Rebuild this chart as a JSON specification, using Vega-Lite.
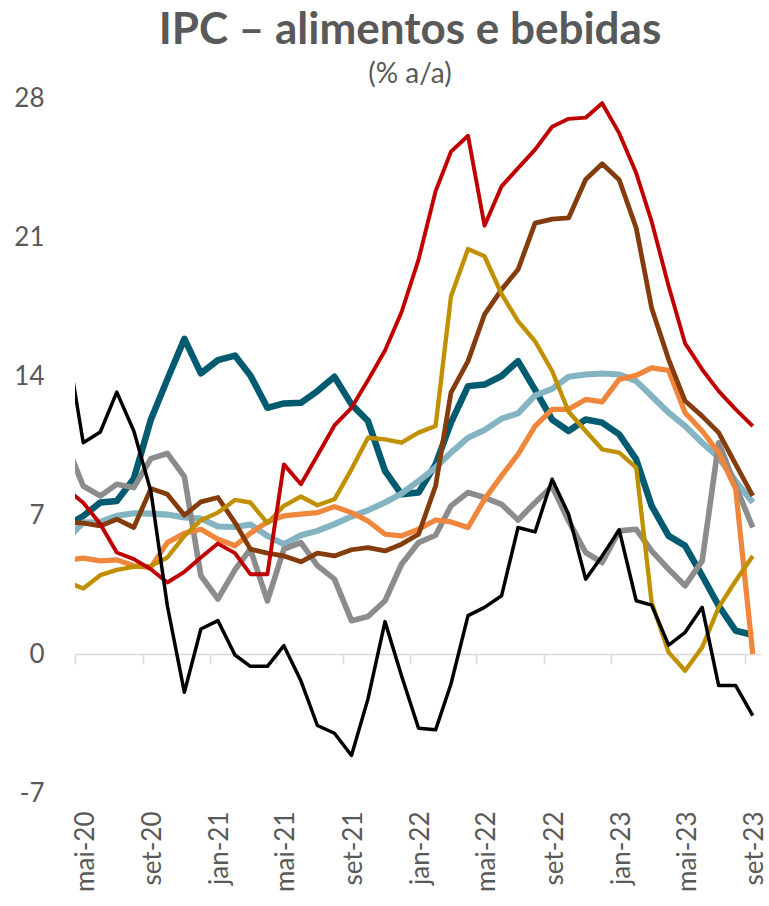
{
  "$schema": "https://vega.github.io/schema/vega-lite/v6.json",
  "autosize": "none",
  "width": 686,
  "height": 695,
  "padding": {"left": 75, "top": 98, "right": 8, "bottom": 113},
  "background": "white",
  "config": {"view": {"stroke": null}, "font": "Lato"},
  "title": {
    "text": "IPC – alimentos e bebidas",
    "subtitle": "(% a/a)",
    "anchor": "middle",
    "dx": -8,
    "dy": 12,
    "offset": 8,
    "font": "Lato",
    "fontSize": 44,
    "fontWeight": "bold",
    "color": "#595959",
    "subtitleFont": "Lato",
    "subtitleFontSize": 28,
    "subtitleColor": "#595959",
    "subtitlePadding": 8
  },
  "data": {
    "values": [
      {"mes": "2020-04-16", "azul": 6.45, "vermelho": 8.3, "marrom": 6.65, "dourado": 3.64, "laranja": 4.73, "azul_claro": 5.78, "cinza": 10.5, "preto": 15.7},
      {"mes": "2020-05-16", "azul": 6.95, "vermelho": 7.62, "marrom": 6.59, "dourado": 3.3, "laranja": 4.83, "azul_claro": 6.62, "cinza": 8.46, "preto": 10.64},
      {"mes": "2020-06-16", "azul": 7.63, "vermelho": 6.55, "marrom": 6.45, "dourado": 3.97, "laranja": 4.69, "azul_claro": 6.65, "cinza": 7.96, "preto": 11.18},
      {"mes": "2020-07-16", "azul": 7.71, "vermelho": 5.11, "marrom": 6.79, "dourado": 4.24, "laranja": 4.74, "azul_claro": 6.96, "cinza": 8.55, "preto": 13.19},
      {"mes": "2020-08-16", "azul": 8.83, "vermelho": 4.78, "marrom": 6.37, "dourado": 4.39, "laranja": 4.44, "azul_claro": 7.09, "cinza": 8.38, "preto": 11.23},
      {"mes": "2020-09-16", "azul": 11.8, "vermelho": 4.27, "marrom": 8.33, "dourado": 4.44, "laranja": 4.36, "azul_claro": 7.07, "cinza": 9.84, "preto": 8.2},
      {"mes": "2020-10-16", "azul": 13.83, "vermelho": 3.6, "marrom": 8.04, "dourado": 4.86, "laranja": 5.61, "azul_claro": 7.02, "cinza": 10.1, "preto": 2.43},
      {"mes": "2020-11-16", "azul": 15.87, "vermelho": 4.14, "marrom": 6.99, "dourado": 5.95, "laranja": 6.08, "azul_claro": 6.87, "cinza": 8.93, "preto": -1.93},
      {"mes": "2020-12-16", "azul": 14.13, "vermelho": 4.86, "marrom": 7.66, "dourado": 6.74, "laranja": 6.28, "azul_claro": 6.82, "cinza": 3.94, "preto": 1.26},
      {"mes": "2021-01-16", "azul": 14.8, "vermelho": 5.56, "marrom": 7.88, "dourado": 7.12, "laranja": 5.78, "azul_claro": 6.42, "cinza": 2.77, "preto": 1.68},
      {"mes": "2021-02-16", "azul": 15.03, "vermelho": 5.08, "marrom": 6.62, "dourado": 7.76, "laranja": 5.45, "azul_claro": 6.4, "cinza": 4.24, "preto": -0.05},
      {"mes": "2021-03-16", "azul": 14.03, "vermelho": 4.02, "marrom": 5.28, "dourado": 7.63, "laranja": 6.08, "azul_claro": 6.52, "cinza": 5.28, "preto": -0.62},
      {"mes": "2021-04-16", "azul": 12.4, "vermelho": 4.02, "marrom": 5.08, "dourado": 6.59, "laranja": 6.65, "azul_claro": 5.95, "cinza": 2.68, "preto": -0.62},
      {"mes": "2021-05-16", "azul": 12.62, "vermelho": 9.55, "marrom": 4.94, "dourado": 7.46, "laranja": 6.96, "azul_claro": 5.53, "cinza": 5.28, "preto": 0.42},
      {"mes": "2021-06-16", "azul": 12.65, "vermelho": 8.55, "marrom": 4.64, "dourado": 7.93, "laranja": 7.04, "azul_claro": 5.98, "cinza": 5.61, "preto": -1.35},
      {"mes": "2021-07-16", "azul": 13.24, "vermelho": 10.0, "marrom": 5.08, "dourado": 7.49, "laranja": 7.12, "azul_claro": 6.2, "cinza": 4.45, "preto": -3.6},
      {"mes": "2021-08-16", "azul": 13.96, "vermelho": 11.51, "marrom": 4.94, "dourado": 7.79, "laranja": 7.42, "azul_claro": 6.54, "cinza": 3.77, "preto": -3.99},
      {"mes": "2021-09-16", "azul": 12.57, "vermelho": 12.4, "marrom": 5.25, "dourado": 9.3, "laranja": 7.12, "azul_claro": 6.92, "cinza": 1.68, "preto": -5.11},
      {"mes": "2021-10-16", "azul": 11.73, "vermelho": 13.79, "marrom": 5.36, "dourado": 10.89, "laranja": 6.7, "azul_claro": 7.24, "cinza": 1.89, "preto": -2.26},
      {"mes": "2021-11-16", "azul": 9.22, "vermelho": 15.28, "marrom": 5.19, "dourado": 10.81, "laranja": 6.03, "azul_claro": 7.63, "cinza": 2.68, "preto": 1.63},
      {"mes": "2021-12-16", "azul": 8.04, "vermelho": 17.21, "marrom": 5.53, "dourado": 10.64, "laranja": 5.95, "azul_claro": 8.08, "cinza": 4.52, "preto": -1.09},
      {"mes": "2022-01-16", "azul": 8.13, "vermelho": 19.86, "marrom": 6.03, "dourado": 11.15, "laranja": 6.28, "azul_claro": 8.71, "cinza": 5.61, "preto": -3.74},
      {"mes": "2022-02-16", "azul": 9.55, "vermelho": 23.3, "marrom": 8.46, "dourado": 11.48, "laranja": 6.75, "azul_claro": 9.39, "cinza": 5.98, "preto": -3.82},
      {"mes": "2022-03-16", "azul": 11.65, "vermelho": 25.3, "marrom": 13.16, "dourado": 18.0, "laranja": 6.65, "azul_claro": 10.14, "cinza": 7.46, "preto": -1.51},
      {"mes": "2022-04-16", "azul": 13.49, "vermelho": 26.1, "marrom": 14.75, "dourado": 20.4, "laranja": 6.37, "azul_claro": 10.89, "cinza": 8.13, "preto": 1.93},
      {"mes": "2022-05-16", "azul": 13.57, "vermelho": 21.57, "marrom": 17.1, "dourado": 20.03, "laranja": 7.79, "azul_claro": 11.28, "cinza": 7.88, "preto": 2.35},
      {"mes": "2022-06-16", "azul": 14.0, "vermelho": 23.55, "marrom": 18.35, "dourado": 18.13, "laranja": 8.97, "azul_claro": 11.85, "cinza": 7.54, "preto": 2.93},
      {"mes": "2022-07-16", "azul": 14.75, "vermelho": 24.47, "marrom": 19.36, "dourado": 16.76, "laranja": 10.06, "azul_claro": 12.12, "cinza": 6.75, "preto": 6.37},
      {"mes": "2022-08-16", "azul": 13.3, "vermelho": 25.4, "marrom": 21.7, "dourado": 15.75, "laranja": 11.48, "azul_claro": 13.02, "cinza": 7.63, "preto": 6.15},
      {"mes": "2022-09-16", "azul": 11.8, "vermelho": 26.55, "marrom": 21.9, "dourado": 14.25, "laranja": 12.32, "azul_claro": 13.35, "cinza": 8.45, "preto": 8.8},
      {"mes": "2022-10-16", "azul": 11.23, "vermelho": 26.95, "marrom": 21.96, "dourado": 12.2, "laranja": 12.32, "azul_claro": 13.96, "cinza": 6.7, "preto": 7.04},
      {"mes": "2022-11-16", "azul": 11.81, "vermelho": 27.01, "marrom": 23.9, "dourado": 11.23, "laranja": 12.82, "azul_claro": 14.08, "cinza": 5.11, "preto": 3.77},
      {"mes": "2022-12-16", "azul": 11.65, "vermelho": 27.74, "marrom": 24.69, "dourado": 10.31, "laranja": 12.7, "azul_claro": 14.13, "cinza": 4.61, "preto": 4.94},
      {"mes": "2023-01-16", "azul": 11.06, "vermelho": 26.23, "marrom": 23.88, "dourado": 10.14, "laranja": 13.83, "azul_claro": 14.08, "cinza": 6.2, "preto": 6.25},
      {"mes": "2023-02-16", "azul": 9.8, "vermelho": 24.22, "marrom": 21.45, "dourado": 9.39, "laranja": 14.03, "azul_claro": 13.74, "cinza": 6.28, "preto": 2.68},
      {"mes": "2023-03-16", "azul": 7.46, "vermelho": 21.79, "marrom": 17.43, "dourado": 2.6, "laranja": 14.41, "azul_claro": 12.99, "cinza": 5.19, "preto": 2.46},
      {"mes": "2023-04-16", "azul": 5.95, "vermelho": 18.52, "marrom": 14.83, "dourado": 0.08, "laranja": 14.28, "azul_claro": 12.15, "cinza": 4.27, "preto": 0.45},
      {"mes": "2023-05-16", "azul": 5.45, "vermelho": 15.64, "marrom": 12.74, "dourado": -0.84, "laranja": 12.15, "azul_claro": 11.48, "cinza": 3.44, "preto": 1.09},
      {"mes": "2023-06-16", "azul": 3.94, "vermelho": 14.33, "marrom": 11.98, "dourado": 0.34, "laranja": 11.23, "azul_claro": 10.64, "cinza": 4.69, "preto": 2.35},
      {"mes": "2023-07-16", "azul": 2.43, "vermelho": 13.24, "marrom": 11.15, "dourado": 2.35, "laranja": 10.14, "azul_claro": 9.89, "cinza": 10.64, "preto": -1.59},
      {"mes": "2023-08-16", "azul": 1.17, "vermelho": 12.32, "marrom": 9.55, "dourado": 3.69, "laranja": 8.3, "azul_claro": 8.71, "cinza": 8.46, "preto": -1.59},
      {"mes": "2023-09-16", "azul": 0.96, "vermelho": 11.48, "marrom": 7.96, "dourado": 4.94, "laranja": 0.0, "azul_claro": 7.63, "cinza": 6.37, "preto": -3.1}
    ]
  },
  "layer": [
    {
      "data": {"values": [{"ref": 0}]},
      "mark": {"type": "rule", "strokeOpacity": 0},
      "encoding": {
        "x": {
          "datum": {"year": 2020, "month": 5, "date": 1, "utc": true},
          "type": "temporal",
          "scale": {"type": "utc", "domain": [{"year": 2020, "month": 5, "date": 1, "utc": true}, {"year": 2023, "month": 10, "date": 1, "utc": true}]},
          "axis": {
            "orient": "bottom",
            "offset": -139,
            "values": [
              {"year": 2020, "month": 5, "date": 1, "utc": true},
              {"year": 2020, "month": 9, "date": 1, "utc": true},
              {"year": 2021, "month": 1, "date": 1, "utc": true},
              {"year": 2021, "month": 5, "date": 1, "utc": true},
              {"year": 2021, "month": 9, "date": 1, "utc": true},
              {"year": 2022, "month": 1, "date": 1, "utc": true},
              {"year": 2022, "month": 5, "date": 1, "utc": true},
              {"year": 2022, "month": 9, "date": 1, "utc": true},
              {"year": 2023, "month": 1, "date": 1, "utc": true},
              {"year": 2023, "month": 5, "date": 1, "utc": true},
              {"year": 2023, "month": 9, "date": 1, "utc": true}
            ],
            "labels": false,
            "grid": false,
            "title": null,
            "domain": true,
            "domainColor": "#D9D9D9",
            "domainWidth": 1.5,
            "ticks": true,
            "tickColor": "#D9D9D9",
            "tickWidth": 1.5,
            "tickSize": 10
          }
        },
        "x2": {"datum": {"year": 2023, "month": 10, "date": 1, "utc": true}},
        "y": {"datum": 0, "type": "quantitative", "scale": {"domain": [-7, 28]}, "axis": null}
      }
    },
    {
      "transform": [
        {"fold": ["azul", "azul_claro", "cinza", "laranja", "marrom", "dourado", "vermelho", "preto"], "as": ["serie", "valor"]}
      ],
      "mark": {"type": "line", "clip": true, "strokeJoin": "round"},
      "encoding": {
        "x": {
          "field": "mes",
          "type": "temporal",
          "scale": {"type": "utc", "domain": [{"year": 2020, "month": 5, "date": 1, "utc": true}, {"year": 2023, "month": 10, "date": 1, "utc": true}]},
          "axis": {
            "orient": "bottom",
            "values": [
              {"year": 2020, "month": 5, "date": 16, "utc": true},
              {"year": 2020, "month": 9, "date": 16, "utc": true},
              {"year": 2021, "month": 1, "date": 16, "utc": true},
              {"year": 2021, "month": 5, "date": 16, "utc": true},
              {"year": 2021, "month": 9, "date": 16, "utc": true},
              {"year": 2022, "month": 1, "date": 16, "utc": true},
              {"year": 2022, "month": 5, "date": 16, "utc": true},
              {"year": 2022, "month": 9, "date": 16, "utc": true},
              {"year": 2023, "month": 1, "date": 16, "utc": true},
              {"year": 2023, "month": 5, "date": 16, "utc": true},
              {"year": 2023, "month": 9, "date": 16, "utc": true}
            ],
            "labelExpr": "['jan','fev','mar','abr','mai','jun','jul','ago','set','out','nov','dez'][utcmonth(datum.value)] + '-' + utcFormat(datum.value, '%y')",
            "labelAngle": 270,
            "labelAlign": "right",
            "labelBaseline": "middle",
            "labelPadding": 18,
            "labelOffset": 2,
            "labelFont": "Lato",
            "labelFontSize": 26,
            "labelColor": "#595959",
            "labelFlush": false,
            "labelOverlap": false,
            "labelBound": false,
            "domain": false,
            "ticks": false,
            "tickSize": 0,
            "grid": false,
            "title": null
          }
        },
        "y": {
          "field": "valor",
          "type": "quantitative",
          "scale": {"domain": [-7, 28]},
          "axis": {
            "values": [-7, 0, 7, 14, 21, 28],
            "labelExpr": "replace(datum.label, '\u2212', '-')",
            "domain": false,
            "ticks": false,
            "tickSize": 0,
            "grid": false,
            "title": null,
            "labelFont": "Lato",
            "labelFontSize": 26,
            "labelColor": "#595959",
            "labelPadding": 31
          }
        },
        "color": {
          "field": "serie",
          "type": "nominal",
          "legend": null,
          "scale": {
            "domain": ["azul", "azul_claro", "cinza", "laranja", "marrom", "dourado", "vermelho", "preto"],
            "range": ["#005A70", "#84B4C2", "#8C8C8C", "#F0853C", "#843C0C", "#C09000", "#C00000", "#000000"]
          }
        },
        "strokeWidth": {
          "field": "serie",
          "type": "nominal",
          "legend": null,
          "scale": {
            "domain": ["azul", "azul_claro", "cinza", "laranja", "marrom", "dourado", "vermelho", "preto"],
            "range": [6.5, 3.5, 3.5, 3.5, 3.5, 3.5, 3.5, 3.5]
          }
        }
      }
    }
  ],
  "resolve": {"axis": {"x": "independent", "y": "independent"}}
}
